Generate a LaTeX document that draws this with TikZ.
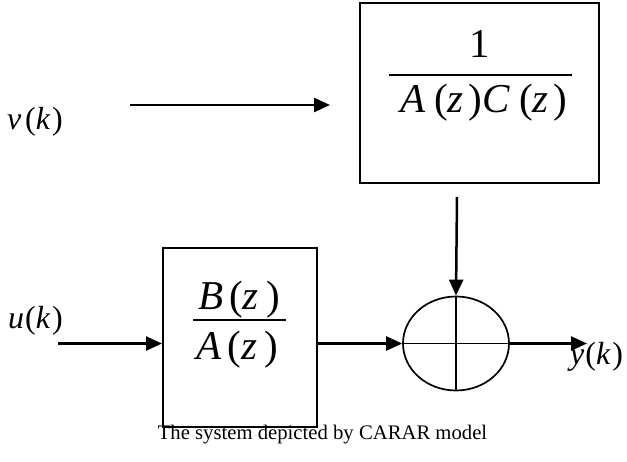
\documentclass[tikz,border=0pt]{standalone}
\usepackage{fontspec}
\setmainfont{Liberation Serif}
\usetikzlibrary{arrows.meta,shapes.geometric}

% italic symbol with a small gap after it
\newcommand{\iv}[2]{\textit{#1}\hspace{#2}}

\begin{document}
\begin{tikzpicture}[x=1pt,y=-1pt,
    blockbox/.style={draw,line width=2pt,inner sep=0pt},
    sumnode/.style={draw,ellipse,line width=1.7pt,inner sep=0pt,
      minimum width=106pt,minimum height=94pt},
    flow/.style={line width=2.5pt,-{Triangle[length=16pt,width=14pt]}},
    crossline/.style={line width=1.4pt},
    sig/.style={font=\fontsize{32}{36}\selectfont,inner sep=0pt,anchor=base west},
    frac/.style={font=\fontsize{41}{46}\selectfont,inner sep=0pt,anchor=base},
    fracbar/.style={line width=2pt},
    caption/.style={font=\fontsize{20.7}{24}\selectfont,inner sep=0pt,anchor=base}]
  \useasboundingbox (0,0) rectangle (627,462);

  % blocks
  \node[blockbox,minimum width=239pt,minimum height=180pt] (noise) at (479.5,93) {};
  \node[blockbox,minimum width=154pt,minimum height=179pt] (plant) at (240,337.5) {};
  \node[sumnode] (sum) at (456,343.5) {};

  % summing junction cross
  \draw[crossline] (sum.west) -- (sum.east);
  \draw[crossline] (sum.north) -- (sum.south);

  % transfer function of the noise filter
  \node[frac] (one) at (480,58) {1};
  \coordinate (nbarL) at (389,75);
  \coordinate (nbarR) at (572,75);
  \draw[fracbar] (nbarL) -- (nbarR);
  \node[frac] (acz) at (484,113)
    {\iv{A}{0.2em}(\iv{z}{0.12em})\iv{C}{0.22em}(\iv{z}{0.12em})};

  % transfer function of the plant
  \node[frac] (bz) at (239,310) {\iv{B}{0.15em}(\iv{z}{0.18em})};
  \coordinate (pbarL) at (193,320);
  \coordinate (pbarR) at (286,320);
  \draw[fracbar] (pbarL) -- (pbarR);
  \node[frac] (az) at (237,360) {\iv{A}{0.15em}(\iv{z}{0.18em})};

  % signals
  \node[sig] (v) at (7,130) {\iv{v}{0.12em}(\iv{k}{0.05em})};
  \node[sig] (u) at (8,329) {\iv{u}{0.03em}(\iv{k}{0.05em})};
  \node[sig] (y) at (570,365) {\iv{y}{0.03em}(\iv{k}{0.05em})};

  % connectors
  \coordinate (vstart) at (130,105);
  \coordinate (vend) at (330,105);
  \draw[flow] (vstart) -- (vend);

  \coordinate (nout) at (457,197);
  \draw[flow] (nout) -- (sum.north);

  \coordinate (ustart) at (58,343.5);
  \draw[flow] (ustart) -- (ustart -| plant.west);

  \draw[flow] (plant.east |- sum.west) -- (sum.west);

  \coordinate (yend) at (587,343.5);
  \draw[flow] (sum.east) -- (yend);

  % caption
  \node[caption] (cap) at (322.5,439) {The system depicted by CARAR model};
\end{tikzpicture}
\end{document}
